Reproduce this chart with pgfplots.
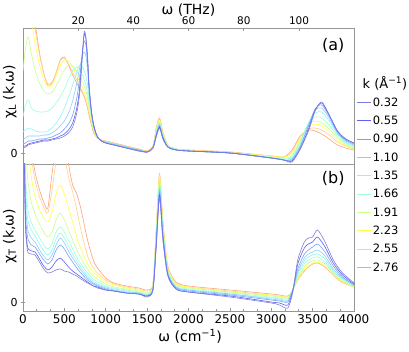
\documentclass[border=0pt]{standalone}
\usepackage{fontspec}
\setmainfont{DejaVu Sans}
\usepackage{pgfplots}
\usepackage{pgfplotstable}
\pgfplotsset{compat=1.18}

\definecolor{c1}{RGB}{125,125,225}
\definecolor{c2}{RGB}{95,95,240}
\definecolor{c3}{RGB}{120,160,255}
\definecolor{c4}{RGB}{140,205,255}
\definecolor{c5}{RGB}{140,245,250}
\definecolor{c6}{RGB}{160,255,210}
\definecolor{c7}{RGB}{200,255,140}
\definecolor{c8}{RGB}{255,255,70}
\definecolor{c9}{RGB}{255,210,140}
\definecolor{c10}{RGB}{255,160,125}
\definecolor{frame}{RGB}{150,150,150}

\pgfplotstableread{
w k1 k2 k3 k4 k5 k6 k7 k8 k9 k10
0 5 7 9 14 21 36 82 170 190 200
30 6 7 10 15 23 48 105 160 180 190
64 8 9 12 17 25 53 116 148 165 175
100 9 10 12 17 24 45 100 133 148 155
150 10 11 13 17 22 42 82 108 122 128
200 11 12 14 17 21 41 70 88 98 100
250 12 13 14 18 21 41 62 74 80 80
300 12 13 15 18 22 42 59 66 69 68
350 13 14 16 20 25 45 61 68 71 70
400 14 15 18 23 30 50 67 77 80 80
450 15 17 20 27 36 56 75 88 92 93
500 17 19 24 32 45 64 83 93 95 96
550 20 23 29 40 56 74 88 92 89 88
600 26 30 38 52 68 83 87 86 81 78
650 40 45 55 70 81 86 82 78 73 70
685 60 65 75 85 88 84 77 71 67 65
720 100 102 103 98 86 78 71 65 61 60
740 121 119 112 101 82 73 67 61 57 56
760 116 114 108 97 77 68 62 56 52 51
780 96 95 90 83 68 60 55 50 46 45
800 66 65 63 60 54 50 46 42 38 37
830 40 40 39 38 36 34 32 30 28 27
860 26 26 25 25 24 23 22 21 20 19
900 16 16 16 16 16 16 16 15 15 15
950 12 12 12 12 12 12 12 12 13 13
1000 10 10 10 11 11 11 11 11 12 12
1100 8 8 8 9 9 9 9 9 10 10
1250 5 5 5 6 6 6 6 6 7 7
1400 2 2 3 3 3 3 3 3 4 4
1500 1 1 1 1 1 1 1 1 2 2
1570 5 5 5 5 5 6 6 6 7 7
1610 16 17 18 19 20 21 22 23 24 25
1650 25 26 27 28 29 30 31 33 34 35
1690 14 15 16 16 17 18 19 20 21 21
1750 6 6 6 6 7 7 7 8 8 8
1850 3 3 3 3 4 4 4 4 4 4
2000 2 2 2 2 2 2 2 2 3 3
2500 0 0 0 0 0 0 0 0 1 1
3000 -5 -5 -5 -5 -5 -4 -4 -3 -3 -3
3150 -7 -7 -7 -7 -6 -6 -5 -4 -4 -4
3250 -9 -8 -7 -6 -5 -4 -3 -1 1 3
3350 4 4 6 7 9 11 12 14 16 17
3450 22 24 27 28 30 30 29 27 24 23
3530 42 43 44 43 40 36 32 29 25 22
3610 51 50 48 45 41 35 30 27 23 19
3700 38 38 37 35 32 28 24 21 18 14
3800 22 22 21 20 19 17 15 13 11 8
3900 14 14 13 12 11 10 9 8 7 5
4000 10 10 9 8 7 6 5 4 4 3
}\tabA

\pgfplotstableread{
w k1 k2 k3 k4 k5 k6 k7 k8 k9 k10
0 260 280 300 310 320 330 350 400 400 400
15 140 150 170 180 190 200 220 260 280 300
30 75 80 90 100 115 130 160 200 230 250
50 54 58 68 78 88 100 130 165 195 210
64 49 53 62 70 80 90 118 150 175 190
100 48 51 57 64 72 80 100 125 145 155
145 47 50 55 60 66 72 88 105 122 130
200 40 43 48 52 58 64 78 92 105 112
250 33 36 42 46 51 57 70 84 95 100
300 29 32 38 42 47 53 65 80 89 94
350 30 35 42 47 52 58 70 90 112 128
400 32 41 52 57 63 70 82 108 140 155
450 33 44 57 64 69 75 89 117 152 170
500 31 40 53 59 64 70 82 108 145 165
550 30 35 46 51 56 62 72 94 125 138
600 28 31 40 44 48 53 62 80 110 117
650 26 28 34 38 41 45 52 65 92 108
700 23 25 29 32 35 38 44 53 72 93
780 19 20 22 24 26 29 33 38 46 62
850 16 16 18 19 21 23 26 30 34 42
900 14 15 16 17 18 20 23 26 29 34
1000 12 12 13 14 15 16 18 20 22 24
1100 11 11 11 12 13 14 15 17 18 19
1250 9 9 9 10 11 12 13 14 15 16
1400 8 8 8 9 9 10 11 12 13 14
1500 5 6 6 7 7 8 9 10 11 12
1570 12 12 13 13 14 15 15 16 17 18
1610 55 57 59 61 63 65 67 69 71 73
1650 104 107 110 113 116 119 122 125 127 128
1690 62 65 68 70 72 74 76 78 80 81
1750 26 27 28 29 30 31 32 34 35 36
1850 13 13 14 15 15 16 17 18 19 20
2000 10 10 11 12 12 13 14 15 15 16
2500 5 6 7 8 8 9 10 10 11 12
3000 -1 0 2 3 4 5 6 7 7 8
3100 -3 -1 1 2 3 4 5 6 6 7
3200 -6 -3 0 1 2 3 4 5 5 6
3260 10 11 12 12 12 12 12 12 12 12
3320 42 38 33 30 28 26 24 23 22 22
3400 60 54 48 44 41 38 35 33 31 31
3450 64 58 52 48 45 42 39 37 35 35
3500 65 60 55 50 47 44 41 39 38 38
3560 72 65 58 52 48 45 42 40 39 39
3650 60 55 50 46 43 40 38 36 35 35
3750 42 39 36 33 31 30 29 28 27 27
3850 30 28 26 25 24 23 22 21 20 20
4000 19 18 17 17 16 16 15 15 15 15
}\tabB

\pgfplotsset{
  common/.style={
    scale only axis, width=331pt,
    xmin=0, xmax=4000,
    axis line style={frame, line width=0.8pt},
    tick style={frame, line width=0.7pt},
    major tick length=3.5pt, minor tick length=2pt,
    ytick={0}, ytick pos=left, ytick align=center,
    /pgf/number format/assume math mode=true,
    /pgf/number format/1000 sep={},
    scaled x ticks=false,
    yticklabel style={font=\fontsize{11}{13}\selectfont},
    label style={font=\fontsize{14}{16}\selectfont},
  },
  line/.style={smooth, tension=0.45, line width=0.6pt},
}

\begin{document}
\begin{tikzpicture}[font=\fontsize{11.5}{13}\selectfont]
\useasboundingbox (0,0) rectangle (409pt,351pt);

\begin{axis}[common, name=a,
  at={(23pt,187pt)}, anchor=south west, height=136pt,
  ymin=-11, ymax=125,
  xtick={667.1,1334.2,2001.4,2668.5,3335.6},
  xticklabels={20,40,60,80,100},
  xticklabel style={font=\fontsize{10.5}{12}\selectfont},
  xtick pos=right, xticklabel pos=right,
  xlabel={ω (THz)},
  xlabel style={at={(axis description cs:0.5,1.135)}, anchor=center},
  ylabel={χ\textsubscript{L} (k,ω)},
  ylabel style={at={(axis description cs:-0.04,0.53)}, anchor=center},
]
\pgfplotsinvokeforeach{10,9,8,7,6,5,4,3,2,1}{
  \addplot[line, c#1] table[x=w, y=k#1] {\tabA};
}
\node[font=\fontsize{16}{18}\selectfont] at (axis description cs:0.9375,0.875) {(a)};
\end{axis}

\begin{axis}[common, name=b,
  at={(23pt,40pt)}, anchor=south west, height=147pt,
  ymin=-9, ymax=138,
  xtick={0,500,...,4000}, minor x tick num=2,
  xticklabel style={font=\fontsize{12}{14}\selectfont},
  xtick pos=left,
  xlabel={ω (cm\textsuperscript{−1})},
  xlabel style={at={(axis description cs:0.505,-0.17)}, anchor=center},
  ylabel={χ\textsubscript{T} (k,ω)},
  ylabel style={at={(axis description cs:-0.04,0.51)}, anchor=center},
  reverse legend,
  legend cell align=left,
  legend image code/.code={\draw[#1] (0pt,0pt) -- (14pt,0pt);},
  legend style={at={(axis description cs:1.009,1.449)}, anchor=north west,
    draw=none, fill=none, inner sep=0pt, row sep=10.33pt, column sep=1pt,
    nodes={inner sep=0pt, text height=8pt, text depth=0pt},
    font=\fontsize{11.5}{13}\selectfont},
]
\pgfplotsinvokeforeach{10,9,8,7,6,5,4,3,2,1}{
  \addplot[line, c#1] table[x=w, y=k#1] {\tabB};
}
\legend{2.76,2.55,2.23,1.91,1.66,1.35,1.10,0.90,0.55,0.32}
\node[font=\fontsize{16}{18}\selectfont] at (axis description cs:0.9375,0.903) {(b)};
\end{axis}
\node[font=\fontsize{13}{15}\selectfont] at (385pt,268pt) {k (Å\textsuperscript{−1})};
\end{tikzpicture}
\end{document}
